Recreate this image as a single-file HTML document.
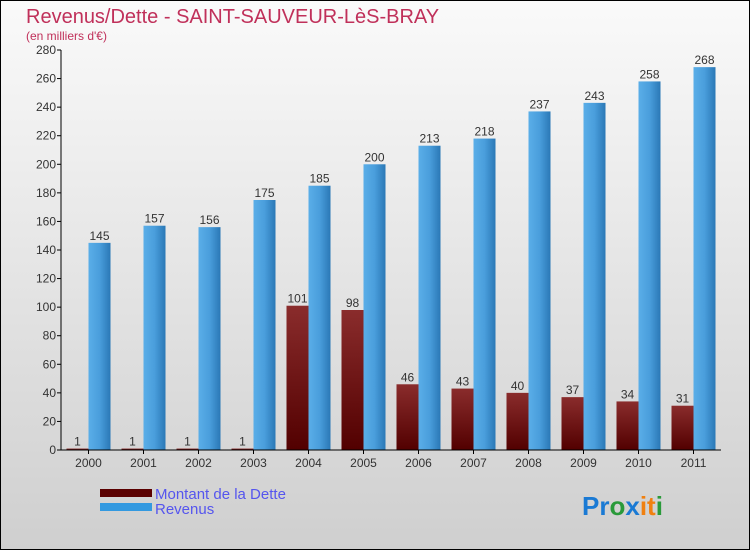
<!DOCTYPE html>
<html><head><meta charset="utf-8"><style>
body{margin:0}
#c{width:750px;height:550px;position:relative;overflow:hidden;font-family:"Liberation Sans",sans-serif}
</style></head><body>
<div id="c">
<svg id="s" width="750" height="550" xmlns="http://www.w3.org/2000/svg">
<defs>
<linearGradient id="bg" x1="0" y1="0" x2="0" y2="1"><stop offset="0" stop-color="#fafafa"/><stop offset="1" stop-color="#cfcfcf"/></linearGradient>
<linearGradient id="gb" x1="0" y1="0" x2="1" y2="0"><stop offset="0" stop-color="#5aaee8"/><stop offset="0.5" stop-color="#4a9edc"/><stop offset="1" stop-color="#2a78b6"/></linearGradient>
<linearGradient id="gd" x1="0" y1="0" x2="0" y2="1"><stop offset="0" stop-color="#8a2c2c"/><stop offset="1" stop-color="#520000"/></linearGradient>
</defs>
<rect x="0.5" y="0.5" width="749" height="549" fill="url(#bg)" stroke="#000"/>
<text x="26" y="23" font-size="20" fill="#c0305a">Revenus/Dette - SAINT-SAUVEUR-LèS-BRAY</text>
<text x="26" y="40" font-size="12" fill="#c0305a">(en milliers d'€)</text>
<g id="plot"></g>
<rect x="100" y="489" width="52" height="8" fill="#5a0000"/>
<rect x="100" y="503" width="52" height="8" fill="#3399e0"/>
<text x="155" y="499" font-size="15" fill="#5555ee">Montant de la Dette</text>
<text x="155" y="514" font-size="15" fill="#5555ee">Revenus</text>
<text x="582" y="515" font-size="26" font-weight="bold"><tspan fill="#1a7ad4">Pr</tspan><tspan fill="#2a9a3a">o</tspan><tspan fill="#1a7ad4">x</tspan><tspan fill="#f08010">it</tspan><tspan fill="#2a9a3a">i</tspan></text>
</svg>
</div>
<script>
const categories=["2000","2001","2002","2003","2004","2005","2006","2007","2008","2009","2010","2011"];
const dette=[1,1,1,1,101,98,46,43,40,37,34,31];
const revenus=[145,157,156,175,185,200,213,218,237,243,258,268];
const yTicks=[0,20,40,60,80,100,120,140,160,180,200,220,240,260,280];
const NS="http://www.w3.org/2000/svg";
const g=document.getElementById('plot');
const x0=61,x1=721,y0=450,y1=50,ymax=280;
const step=(x1-x0)/categories.length;
const y=v=>y0-(v/ymax)*(y0-y1);
const cx=i=>x0+step*(i+0.5);
function el(t,a){const e=document.createElementNS(NS,t);for(const k in a)e.setAttribute(k,a[k]);g.appendChild(e);return e;}
yTicks.forEach(v=>{
  const l=el('line',{x1:x0-4,x2:x0,y1:y(v),y2:y(v),stroke:'#000'});
  
  
  const t=el('text',{x:x0-5,y:y(v)+4,'font-size':12,'text-anchor':'end',fill:'#333'});
  t.textContent=v;
  
  
});
categories.forEach((c,i)=>{
  const bw=22;
  const d=el('rect',{x:cx(i)-bw,y:y(dette[i]),width:bw,height:y0-y(dette[i]),fill:'url(#gd)'});
  
  
  const r=el('rect',{x:cx(i),y:y(revenus[i]),width:bw,height:y0-y(revenus[i]),fill:'url(#gb)'});
  
  
  const dl=el('text',{x:cx(i)-bw/2,y:y(dette[i])-3,'font-size':12,'text-anchor':'middle',fill:'#333'});
  dl.textContent=dette[i];
  
  
  const rl=el('text',{x:cx(i)+bw/2,y:y(revenus[i])-3,'font-size':12,'text-anchor':'middle',fill:'#333'});
  rl.textContent=revenus[i];
  
  
  const tk=el('line',{x1:cx(i),x2:cx(i),y1:y0,y2:y0+4,stroke:'#000'});
  
  
  const xl=el('text',{x:cx(i),y:y0+17,'font-size':12,'text-anchor':'middle',fill:'#333'});
  xl.textContent=c;
  
  
});
const ya=el('line',{x1:x0,x2:x0,y1:y1,y2:y0,stroke:'#000'});


const xa=el('line',{x1:x0,x2:x1,y1:y0,y2:y0,stroke:'#000'});


</script>
</body></html>
